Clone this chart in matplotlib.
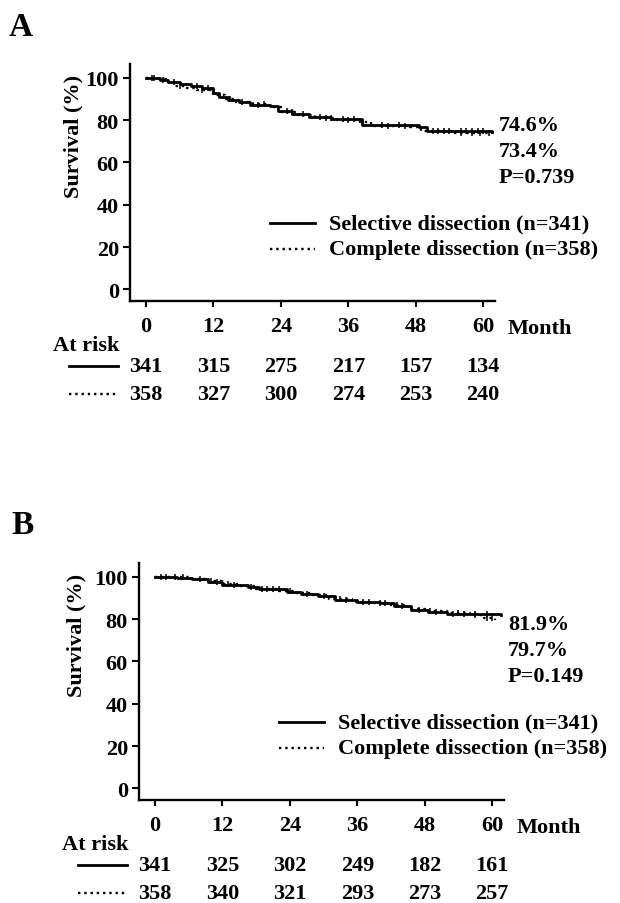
import numpy as np
import matplotlib.pyplot as plt
from matplotlib import transforms
from matplotlib.lines import Line2D

plt.rcParams['font.family'] = ['Liberation Serif', 'DejaVu Serif']
plt.rcParams['font.weight'] = 'bold'
plt.rcParams['font.size'] = 16

# Панель A: криві виживання (час у місяцях, виживання у %)
a_sel_t = [0, 2.5, 4, 6, 8, 10, 12, 13, 14.5, 16.5, 18.5, 22, 23.5, 26, 29, 33, 38.5, 48.5, 50, 61.5]
a_sel_s = [100, 99, 98, 97, 96, 95, 93, 91, 89.5, 88.5, 87, 86.5, 84.5, 83, 81.5, 80.5, 77.5, 76.5, 75, 74.6]
a_com_t = [0, 2, 3.5, 5, 7, 9, 12, 14, 16, 19, 22, 24, 27, 30, 34, 38, 40, 47, 49, 55, 61.5]
a_com_s = [100, 99.5, 98, 96, 95, 94, 92, 90, 88.5, 87.5, 86, 84, 82.5, 81, 80, 79, 77, 76.5, 75, 74, 73.4]
a_sel_cens = [1, 3, 5, 9, 11, 17, 20, 25, 28, 31, 35, 37, 42, 45, 52, 54, 56, 57, 58, 59, 60]
a_com_cens = [1.5, 6, 10, 15, 21, 26, 32, 33, 36, 43, 46, 51, 53, 56, 58, 59.5, 61]

# Панель B
b_sel_t = [0, 4, 6.5, 9.5, 12, 16.5, 18.5, 23.5, 26, 29, 32, 36, 40, 42.5, 45.5, 48.5, 52, 61.5]
b_sel_s = [100, 99.5, 98.8, 97.5, 96, 95.3, 94, 92.8, 91.8, 91, 89, 88, 87.4, 86.3, 84.5, 83.5, 82.5, 81.9]
b_com_t = [0, 3, 6, 9, 12, 15, 18, 22, 25, 28, 31, 35, 39, 42, 45, 48, 52, 56, 58.5, 60.5]
b_com_s = [100, 99.8, 99, 97.8, 96.4, 95.5, 94.4, 93.3, 92.2, 91.3, 89.4, 88.2, 87.6, 86.8, 84.8, 83.8, 82.9, 82, 80.5, 79.7]
b_sel_cens = [2, 3.5, 8, 11, 14, 17, 20, 22, 27, 30, 34, 38, 41, 44, 47, 50, 53, 55, 57, 59]
b_com_cens = [1, 5, 10, 13, 19, 21, 24, 33, 37, 40, 43, 49, 54, 57, 59, 60]

month_ticks = [0, 12, 24, 36, 48, 60]
a_risk_sel = [341, 315, 275, 217, 157, 134]
a_risk_com = [358, 327, 300, 274, 253, 240]
b_risk_sel = [341, 325, 302, 249, 182, 161]
b_risk_com = [358, 340, 321, 293, 273, 257]

a_notes = ['74.6%', '73.4%', 'P=0.739']
b_notes = ['81.9%', '79.7%', 'P=0.149']
labels = ['Selective dissection (n=341)', 'Complete dissection (n=358)']

W, H = 620, 904
fig = plt.figure(figsize=(W / 100, H / 100), dpi=100)


def fx(x):
    return x / W


def fy(y):
    return 1 - y / H


def key_line(x0, x1, y, ls):
    fig.add_artist(Line2D([fx(x0), fx(x1)], [fy(y), fy(y)], color='black',
                          lw=2 if ls == '-' else 1.7, ls=ls, transform=fig.transFigure))


def step_value(t, s, x):
    i = np.searchsorted(t, x, side='right') - 1
    return np.array(s)[i]


def panel(dy, dx, letter, sel_t, sel_s, com_t, com_s, sel_c, com_c, notes, risk_sel, risk_com):
    # dy, dx - зсув панелі в пікселях
    left, right, top, bottom = 130 + dx, 495 + dx, 65 + dy, 302 + dy
    ax = fig.add_axes([fx(left), fy(bottom), fx(right - left), (bottom - top) / H])

    ax.step(sel_t, sel_s, where='post', color='black', lw=2)
    ax.step(com_t, com_s, where='post', color='black', lw=1.7, ls=':')
    ax.plot(sel_c, step_value(sel_t, sel_s, sel_c), ls='none', marker='|',
            ms=4, mew=1.1, color='black')
    ax.plot(com_c, step_value(com_t, com_s, com_c), ls='none', marker='|',
            ms=4, mew=1.1, color='black')

    ax.set_xlim(-2.85, 62.1)
    ax.set_ylim(-5.5, 106.5)
    ax.set_xticks(month_ticks)
    ax.set_yticks(range(0, 101, 20))
    for s in ['top', 'right']:
        ax.spines[s].set_visible(False)
    for s in ['left', 'bottom']:
        ax.spines[s].set_linewidth(1.7)
    ax.tick_params(axis='y', direction='out', length=5, width=1.5, pad=3)
    ax.tick_params(axis='x', direction='out', length=4, width=1.5, pad=7)

    fig.text(fx(9 + dx * 0.3), fy(27 + dy), letter, fontsize=24, fontweight='bold',
             va='center', ha='left')
    fig.text(fx(73 + dx * 0.4), fy(136 + dy), 'Survival (%)', rotation=90,
             va='center', ha='center')
    fig.text(fx(508 + dx), fy(329 + dy), 'Month', va='center', ha='left')

    for i, txt in enumerate(notes):
        fig.text(fx(499 + dx), fy(126 + dy + 26 * i), txt, va='center', ha='left')

    # легенда
    key_line(270 + dx, 315 + dx, 224 + dy, '-')
    key_line(270 + dx, 315 + dx, 250 + dy, ':')
    fig.text(fx(329 + dx), fy(224 + dy), labels[0], va='center', ha='left')
    fig.text(fx(329 + dx), fy(250 + dy), labels[1], va='center', ha='left')

    # таблиця "At risk"
    tr = transforms.blended_transform_factory(ax.transData, fig.transFigure)
    fig.text(fx(53 + dx), fy(346 + dy), 'At risk', va='center', ha='left')
    key_line(69 + dx, 118 + dx, 367 + dy, '-')
    key_line(69 + dx, 118 + dx, 395 + dy, ':')
    for m, n1, n2 in zip(month_ticks, risk_sel, risk_com):
        ax.text(m, fy(367 + dy), str(n1), transform=tr, ha='center', va='center')
        ax.text(m, fy(395 + dy), str(n2), transform=tr, ha='center', va='center')
    return ax


panel(0, 0, 'A', a_sel_t, a_sel_s, a_com_t, a_com_s, a_sel_cens, a_com_cens,
      a_notes, a_risk_sel, a_risk_com)
panel(499, 9, 'B', b_sel_t, b_sel_s, b_com_t, b_com_s, b_sel_cens, b_com_cens,
      b_notes, b_risk_sel, b_risk_com)

fig.savefig('out.png', dpi=100)
